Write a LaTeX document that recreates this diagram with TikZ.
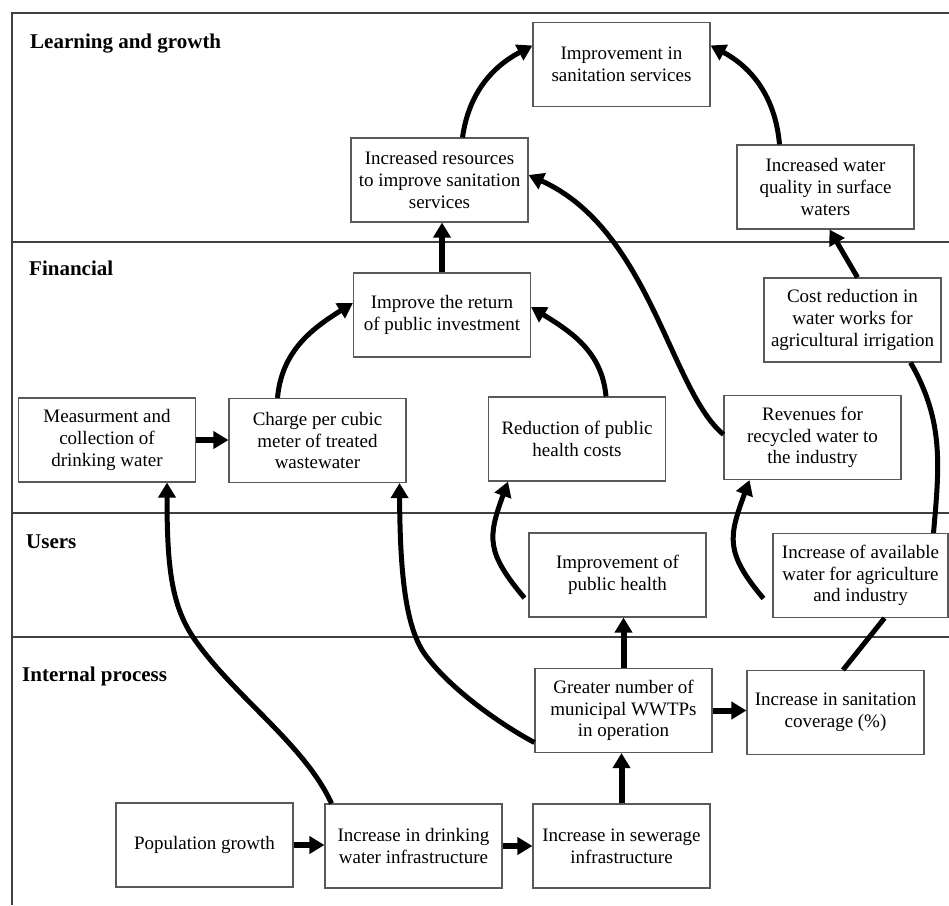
\documentclass[tikz,border=0pt]{standalone}
\usepackage{fontspec}
\setmainfont{Liberation Serif}
\usetikzlibrary{arrows.meta}
\begin{document}
\begin{tikzpicture}[x=1pt,y=-1pt,
  box/.style={draw=black!65, line width=1.1pt, fill=white, minimum width=177pt, minimum height=84pt,
    align=center, inner sep=2pt, font=\fontsize{19}{21.7}\selectfont},
  hdr/.style={anchor=base west, inner sep=0pt, font=\fontsize{21}{24}\selectfont\bfseries},
  frameline/.style={draw=black!75, line width=1.2pt},
  sarrow/.style={line width=6pt, -{Triangle[length=15pt,width=17pt]}},
  carrow/.style={line width=5pt, -{Triangle[length=15pt,width=17pt]}},
  cline/.style={line width=5pt}]
\useasboundingbox (0,0) rectangle (949,905);
\fill[white] (0,0) rectangle (949,905);
% frame and lanes
\draw[frameline] (949,13) -- (12,13) -- (12,905);
\draw[frameline] (12,242) -- (949,242);
\draw[frameline] (12,513) -- (949,513);
\draw[frameline] (12,637) -- (949,637);
\node[hdr] (hlg) at (30,48) {Learning and growth};
\node[hdr] (hfin) at (29,275) {Financial};
\node[hdr] (husr) at (26,548) {Users};
\node[hdr] (hint) at (22,681) {Internal process};
% boxes
\node[box] (impsan) at (621.5,64.5) {Improvement in\\sanitation services};
\node[box] (incres) at (439.5,180) {Increased resources\\to improve sanitation\\services};
\node[box] (wq) at (825.5,187) {Increased water\\quality in surface\\waters};
\node[box] (ret) at (442,315) {Improve the return\\of public investment};
\node[box] (cost) at (852.5,320) {Cost reduction in\\water works for\\agricultural irrigation};
\node[box] (meas) at (107,440) {Measurment and\\collection of\\drinking water};
\node[box] (charge) at (317.5,440.5) {Charge per cubic\\meter of treated\\wastewater};
\node[box] (red) at (577,439) {Reduction of public\\health costs};
\node[box] (rev) at (812.5,437.5) {Revenues for\\recycled water to\\the industry};
\node[box] (imph) at (617.5,575) {Improvement of\\public health};
\node[box, minimum width=175pt] (avail) at (860.5,575.5) {Increase of available\\water for agriculture\\and industry};
\node[box] (wwtp) at (623.5,710.5) {Greater number of\\municipal WWTPs\\in operation};
\node[box] (cov) at (835.5,712.5) {Increase in sanitation\\coverage (\%)};
\node[box] (pop) at (204.5,845) {Population growth};
\node[box] (drink) at (413.5,846) {Increase in drinking\\water infrastructure};
\node[box] (sew) at (621.5,846) {Increase in sewerage\\infrastructure};
% connectors
\draw[carrow] ([xshift=23pt]incres.north) to[out=82,in=208] ([yshift=19pt]impsan.west);
\draw[carrow] ([xshift=-46pt]wq.north) to[out=95,in=-28] ([yshift=19pt]impsan.east);
\draw[sarrow] (ret.north) -- (ret.north |- incres.south);
\draw[carrow] ([xshift=5pt]cost.north) -- ([xshift=4pt]wq.south);
\draw[carrow] ([xshift=-40pt]charge.north) to[out=85,in=212] ([yshift=12pt]ret.west);
\draw[carrow] ([xshift=29pt]red.north) to[out=95,in=-32] ([yshift=8pt]ret.east);
\draw[sarrow] (meas.east) -- (meas.east -| charge.west);
\draw[carrow] ([yshift=3pt]rev.west) .. controls (670,390) and (650,230) .. ([yshift=5pt]incres.east);
\draw[sarrow] (wwtp.north) -- (wwtp.north |- imph.south);
\draw[carrow] ([xshift=-4pt,yshift=-23pt]imph.west) to[out=130,in=-110,looseness=1.3] ([xshift=-69pt]red.south);
\draw[carrow] ([xshift=-9pt,yshift=-23pt]avail.west) to[out=130,in=-110,looseness=1.3] ([xshift=-63pt]rev.south);
\draw[cline] ([xshift=58pt]cost.south) to[out=-60,in=85] ([xshift=73pt]avail.north);
\draw[cline] ([xshift=7.5pt]cov.north) -- ([xshift=24pt]avail.south);
\draw[sarrow] (wwtp.east) -- (wwtp.east -| cov.west);
\coordinate (oj) at (195,640);
\draw[carrow] ([xshift=-82pt]drink.north) .. controls (305,745) and (235,697) .. (oj)
   .. controls (172,607) and (167,570) .. ([xshift=60pt]meas.south);
\coordinate (pj) at (424,653);
\draw[carrow] ([yshift=-32pt]wwtp.west) .. controls (505,727) and (450,690) .. (pj)
   .. controls (405,625) and (400,570) .. ([xshift=82pt]charge.south);
\draw[sarrow] (pop.east) -- (pop.east -| drink.west);
\draw[sarrow] (drink.east) -- (drink.east -| sew.west);
\draw[sarrow] (sew.north) -- (sew.north |- wwtp.south);
\end{tikzpicture}
\end{document}
